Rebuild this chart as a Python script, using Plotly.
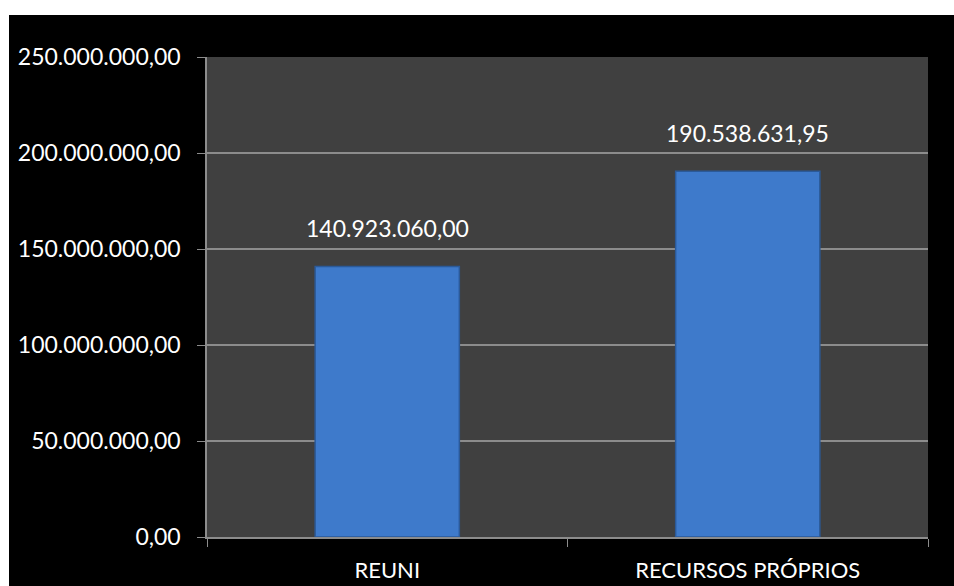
import plotly.graph_objects as go

categories = ["REUNI", "RECURSOS PRÓPRIOS"]
values = [140923060.00, 190538631.95]
value_labels = ["140.923.060,00", "190.538.631,95"]
tick_vals = [0, 50000000, 100000000, 150000000, 200000000, 250000000]
tick_text = ["0,00", "50.000.000,00", "100.000.000,00", "150.000.000,00",
             "200.000.000,00", "250.000.000,00"]

FONT = "Lato"
W, H = 954, 586
ml, mr, mt, mb = 207, 26, 57, 49
pw, ph = W - ml - mr, H - mt - mb

fig = go.Figure()
fig.add_trace(go.Bar(
    x=categories, y=values, width=0.4,
    marker=dict(color="#3E7ACB", line=dict(color="#2B5A99", width=1.5)),
    hoverinfo="skip",
))

for c, v, t in zip(categories, values, value_labels):
    fig.add_annotation(x=c, y=v, text=t, showarrow=False, yanchor="bottom",
                       yshift=22, font=dict(family=FONT, size=23, color="white"))

# background: white margin strip, black chart area, dark gray plot area
fig.add_shape(type="rect", xref="paper", yref="paper",
              x0=(9 - ml) / pw, x1=(W - ml) / pw,
              y0=-mb / ph, y1=(ph + mt - 15) / ph,
              fillcolor="black", line=dict(width=0), layer="below")
fig.add_shape(type="rect", xref="paper", yref="paper", x0=0, x1=1, y0=0, y1=1,
              fillcolor="#404040", line=dict(width=0), layer="below")

fig.update_layout(
    width=W, height=H,
    margin=dict(l=ml, r=mr, t=mt, b=mb, autoexpand=False),
    paper_bgcolor="white", plot_bgcolor="rgba(0,0,0,0)",
    showlegend=False,
    font=dict(family=FONT, size=22, color="white"),
)
fig.update_xaxes(
    automargin=False,
    showgrid=False, showline=True, linecolor="#8C8C8C", linewidth=1.5,
    ticks="outside", tickson="boundaries", ticklen=8, tickcolor="#8C8C8C",
    tickfont=dict(family=FONT, size=22, color="white"), ticklabelstandoff=13,
)
fig.update_yaxes(
    automargin=False,
    range=[0, 250000000], tickvals=tick_vals, ticktext=tick_text,
    showgrid=True, gridcolor="#8C8C8C", gridwidth=1.5,
    showline=True, linecolor="#8C8C8C", linewidth=1.5,
    ticks="outside", ticklen=8, tickcolor="#8C8C8C",
    tickfont=dict(family=FONT, size=23, color="white"), ticklabelstandoff=12,
    zeroline=False,
)
fig.write_html("out.html")
